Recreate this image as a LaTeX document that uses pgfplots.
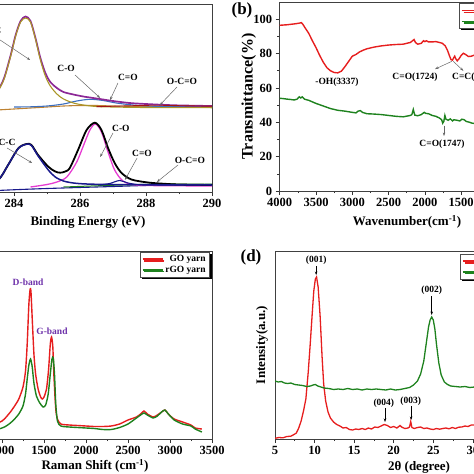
\documentclass[border=0pt]{standalone}
\usepackage{fontspec}
\setmainfont{Liberation Serif}
\usepackage{pgfplots}
\pgfplotsset{compat=1.18}
\usetikzlibrary{arrows.meta,shadows}
\definecolor{apurple}{RGB}{140,40,150}
\definecolor{aolive}{RGB}{170,150,40}
\definecolor{abrown}{RGB}{190,130,50}
\definecolor{ablue}{RGB}{60,110,190}
\definecolor{anavy}{RGB}{25,25,140}
\definecolor{amag}{RGB}{230,60,210}
\definecolor{ared}{RGB}{230,30,30}
\definecolor{agreen}{RGB}{30,130,30}
\definecolor{dband}{RGB}{110,50,170}
\newcommand\ann{\bfseries\fontsize{9.5}{10}\selectfont}
\tikzset{arr/.style={black!60, line width=0.5pt, -{Stealth[length=3.5pt,width=2.5pt]}}}
\pgfplotsset{
  base/.style={
    scale only axis,
    axis line style={black!75, line width=0.8pt},
    tick style={black!80, line width=0.6pt},
    tick align=outside,
    xtick pos=bottom, ytick pos=left,
    major tick length=4pt, minor tick length=2.2pt,
    minor x tick num=1,
    scaled ticks=false,
    /pgf/number format/assume math mode=true,
    /pgf/number format/1000 sep={},
    tick label style={font=\bfseries\fontsize{12.5}{13}\selectfont, text=black},
    label style={font=\bfseries\fontsize{13}{14}\selectfont},
    legend cell align=right,
    legend style={draw=black!70, line width=0.5pt, fill=white, font=\bfseries\fontsize{9.5}{10}\selectfont, inner xsep=2pt, inner ysep=1pt, row sep=-1pt, drop shadow={shadow xshift=1.8pt, shadow yshift=-1.8pt, fill=black, opacity=1}},
    legend image code/.code={\draw[#1, line width=1.4pt] (0pt,0pt) -- (20pt,0pt);},
  },
}
\begin{document}
\begin{tikzpicture}
\useasboundingbox (0pt,0pt) rectangle (474pt,-474pt);
\clip (0pt,0pt) rectangle (474pt,-474pt);

% ---------------- (a) XPS ----------------
\begin{axis}[base, at={(212pt,-192pt)}, anchor=south east, width=264pt, height=188pt,
  xmin=282, xmax=290, ymin=0, ymax=188, xtick={282,284,...,290}, ytick=\empty,
  xlabel={Binding Energy (eV)}, xlabel style={at={(axis description cs:0.53,-0.16)}, anchor=center}]
% top spectrum
\addplot[abrown, line width=1.1pt, smooth] coordinates {(282,78) (283,80.5) (283.5,82) (284,83) (284.5,84) (285,85) (285.5,86) (286,86.5) (286.5,86.5) (287,86) (288,85.5) (289,85.3) (290,85.3)};
\addplot[ablue, line width=1.1pt, smooth] coordinates {(284,85) (284.5,85.2) (285,86) (285.5,88) (285.9,91) (286.3,92.7) (286.7,91.5) (287.1,89) (287.6,87) (288.2,85.8) (289,85.3) (290,85.2)};
\addplot[apurple, line width=1.7pt, smooth] coordinates {(282.5,60) (283,75) (283.5,101) (283.7,114) (283.9,137) (284.05,157) (284.2,171) (284.35,175.5) (284.5,171) (284.65,154) (284.8,134) (284.95,119) (285.1,110) (285.3,104) (285.5,100) (285.8,97.5) (286.1,95.5) (286.4,94) (286.7,92.5) (287,91) (287.5,89) (288,88) (288.5,87.2) (289,86.6) (290,86)};
\addplot[aolive, line width=1.1pt, smooth] coordinates {(282.5,59) (283,74) (283.5,100) (283.7,113) (283.9,136) (284.05,156) (284.2,170) (284.35,174) (284.5,170) (284.65,153) (284.8,132) (284.95,116) (285.1,106) (285.3,98) (285.5,93) (285.8,89) (286.1,87) (286.5,85.5) (287,85) (288,84.5) (290,84.3)};
\addplot[ared!70!black, line width=0.9pt, smooth] coordinates {(286.5,85.3) (287.5,86.2) (288.3,86.8) (289,86.3) (290,85.8)};
% bottom spectrum
\addplot[anavy, line width=1.1pt, smooth] coordinates {(282,-1) (283,0) (283.5,1.5) (285,3.5) (287,5.5) (288.5,7) (290,7.5)};
\addplot[agreen, line width=1pt, smooth] coordinates {(285.5,5) (286.5,6.2) (287.5,7.2) (288.5,8) (290,7.8)};
\addplot[amag, line width=1.3pt, smooth] coordinates {(284.5,5) (285,7.5) (285.3,10) (285.6,15) (285.9,30) (286.1,46) (286.3,62) (286.47,68) (286.65,60) (286.85,40) (287.05,22) (287.3,11) (287.6,7.5) (288,6.5) (290,6)};
\addplot[anavy, line width=1.1pt, smooth] coordinates {(286.6,7) (286.9,8.5) (287.2,11.5) (287.45,9) (287.8,7.2) (288.2,7) (290,7)};
\addplot[black, line width=1.8pt, smooth] coordinates {(282.5,1) (283,5) (283.52,12) (283.82,27) (284.13,43.7) (284.38,48) (284.53,47) (284.73,37) (285.04,25.3) (285.25,20.5) (285.4,19.3) (285.55,20.5) (285.69,24) (285.94,42) (286.2,62) (286.45,69.3) (286.65,62) (286.85,44) (287.05,29) (287.26,19) (287.56,12.5) (288.06,9.5) (288.57,8.2) (289,7.5) (290,7)};
\addplot[anavy, line width=1.5pt, smooth] coordinates {(282.5,0) (283,4) (283.52,12) (283.82,27) (284.13,43.5) (284.38,47.8) (284.53,46.5) (284.73,36) (285.04,22) (285.25,15) (285.5,11) (285.8,9) (286.2,8) (287,7.5) (290,7)};
% annotations
\node[font=\ann] at (axis cs:283.36,162) {C-C};
\draw[arr] (axis cs:283.58,152) -- (axis cs:284.49,132);
\node[font=\ann] at (axis cs:285.58,124) {C-O};
\draw[arr] (axis cs:285.85,117) -- (axis cs:286.61,94);
\node[font=\ann] at (axis cs:287.45,115) {C=O};
\draw[arr] (axis cs:287.15,109) -- (axis cs:286.91,92);
\node[font=\ann] at (axis cs:289.09,111) {O-C=O};
\draw[arr] (axis cs:288.94,105) -- (axis cs:288.42,87);
\node[font=\ann] at (axis cs:283.79,50) {C-C};
\draw[arr] (axis cs:283.79,44) -- (axis cs:284.55,29);
\node[font=\ann] at (axis cs:287.24,64) {C-O};
\draw[arr] (axis cs:287.0,59) -- (axis cs:286.61,35);
\node[font=\ann] at (axis cs:287.88,39) {C=O};
\draw[arr] (axis cs:287.73,34) -- (axis cs:287.36,12);
\node[font=\ann] at (axis cs:289.33,32) {O-C=O};
\draw[arr] (axis cs:288.97,27) -- (axis cs:288.33,10);
\end{axis}

% ---------------- (b) FTIR ----------------
\begin{axis}[base, x dir=reverse, at={(279.7pt,-191pt)}, anchor=south west, width=261.4pt, height=188.9pt,
  xmin=400, xmax=4000, ymin=0, ymax=110, xtick={500,1000,...,4000}, ytick={0,20,...,100}, minor y tick num=1,
  xlabel={Wavenumber(cm\textsuperscript{-1})}, ylabel={Transmittance(\%)},
  xlabel style={at={(axis description cs:0.487,-0.164)}, anchor=center},
  ylabel style={at={(axis description cs:-0.118,0.5)}, anchor=center, font=\bfseries\fontsize{16}{16}\selectfont},
  legend style={at={(axis description cs:0.686,0.993)}, anchor=north west}]
\addplot[ared, line width=1.4pt] coordinates {(4000,96.5) (3900,96.8) (3800,97.3) (3750,97.6) (3700,98) (3680,97) (3650,95) (3600,91.8) (3550,87.5) (3500,83.5) (3450,79) (3400,75) (3350,71.8) (3300,70) (3250,69) (3200,68.8) (3150,69.8) (3100,72.5) (3050,75.5) (3000,78.5) (2950,79.5) (2900,81) (2850,82) (2800,82.8) (2700,83.8) (2600,84.5) (2500,85) (2400,85.3) (2300,85.5) (2200,86.5) (2170,87.5) (2150,88.2) (2130,86.5) (2100,85.5) (2050,86) (2020,87.5) (2000,87) (1980,87.5) (1950,86.8) (1900,86.8) (1850,87) (1800,86.5) (1760,86) (1720,84.5) (1690,82) (1660,78.5) (1640,76.5) (1620,76.2) (1605,77.5) (1590,78.5) (1575,77) (1555,75.8) (1530,77) (1500,79) (1470,80.2) (1440,79.5) (1400,78.3) (1360,78.5) (1330,79) (1300,79.2) (1200,79)};
\addlegendentry{GO yarn}
\addplot[agreen, line width=1.4pt] coordinates {(4000,54) (3950,53.8) (3900,53.5) (3850,53.3) (3800,53) (3760,53.5) (3730,54.8) (3710,54.2) (3690,54.8) (3660,53.5) (3600,52.8) (3500,51) (3400,49.5) (3300,48) (3200,47) (3100,46.5) (3000,45.8) (2950,45.5) (2920,46.5) (2890,46.8) (2860,45.8) (2800,45) (2700,44.8) (2600,44.5) (2500,44) (2400,43.5) (2300,43.2) (2200,44) (2180,44.5) (2160,47.5) (2140,44.2) (2100,43.8) (2050,44.5) (2010,45.8) (1990,45.2) (1950,45) (1900,44) (1850,43.5) (1800,42.5) (1770,41.5) (1755,39.5) (1740,40.5) (1725,44) (1710,41.8) (1680,41.2) (1650,42) (1620,40.8) (1600,41.5) (1560,41.2) (1520,40.8) (1490,41.8) (1460,41.5) (1430,40.5) (1400,40.2) (1350,39.5) (1300,39.3) (1200,39)};
\addlegendentry{rGO yarn}
\node[font=\ann] at (axis cs:3211,63.5) {-OH(3337)};
\node[font=\ann] at (axis cs:2137,66.4) {C=O(1724)};
\node[font=\ann, anchor=west] at (axis cs:1673,66) {C=C(1620)};
\draw[arr] (axis cs:1630,75.5) -- (axis cs:1860,71);
\draw[arr] (axis cs:1610,75.5) -- (axis cs:1470,70);
\node[font=\ann] at (axis cs:1765,27.5) {C=O(1747)};
\draw[arr] (axis cs:1737,38) -- (axis cs:1737,32);
\end{axis}
\node[font=\bfseries\fontsize{17}{17}\selectfont] at (242pt,-10pt) {(b)};

% ---------------- (c) Raman ----------------
\begin{axis}[base, at={(212pt,-439pt)}, anchor=south east, width=252pt, height=188pt,
  xmin=500, xmax=3500, ymin=0, ymax=188, xtick={500,1000,...,3500}, ytick=\empty,
  xlabel={Raman Shift (cm\textsuperscript{-1})}, xlabel style={at={(axis description cs:0.536,-0.144)}, anchor=center},
  legend style={at={(axis description cs:0.992,0.995)}, anchor=north east}]
\addplot[ared, line width=1.4pt, smooth, tension=0.4] coordinates {(600,5) (800,10) (1000,18) (1050,22) (1100,27) (1150,33) (1200,40) (1250,52) (1280,68) (1300,95) (1320,135) (1335,150) (1345,147) (1360,120) (1380,85) (1400,65) (1430,50) (1460,42) (1480,40) (1500,42) (1530,50) (1555,70) (1575,95) (1590,102) (1605,92) (1620,60) (1640,30) (1660,20) (1700,15) (1800,14) (1900,13.5) (2000,13) (2100,12.5) (2200,12.5) (2300,13) (2400,15) (2500,19) (2600,22) (2650,25) (2690,28) (2730,25) (2800,22) (2850,24) (2900,27) (2940,29) (2980,25) (3050,20) (3150,17) (3250,14) (3300,11) (3380,10)};
\addlegendentry{GO yarn}
\addplot[agreen, line width=1.4pt, smooth, tension=0.4] coordinates {(600,3) (800,6) (1000,11) (1050,13) (1100,16) (1150,20) (1200,25) (1250,33) (1280,45) (1300,60) (1320,74) (1340,80) (1360,72) (1380,56) (1410,43) (1450,36) (1490,32) (1520,34) (1550,45) (1575,65) (1595,80) (1610,81) (1625,65) (1640,35) (1660,18) (1700,13) (1800,12) (1900,11.5) (2000,11) (2100,10.5) (2200,9.5) (2300,9.5) (2400,11.5) (2500,15) (2600,21) (2650,24) (2690,26) (2730,24) (2800,21) (2850,23) (2900,27) (2940,29) (2980,25) (3050,19) (3150,15) (3250,13) (3300,10) (3380,7)};
\addlegendentry{rGO yarn}
\node[font=\ann, text=dband] at (axis cs:1310,157) {D-band};
\node[font=\ann, text=dband] at (axis cs:1595,108) {G-band};
\end{axis}

% ---------------- (d) XRD ----------------
\begin{axis}[base, at={(275pt,-439pt)}, anchor=south west, width=277pt, height=188pt,
  xmin=5, xmax=40, ymin=0, ymax=188, xtick={5,10,...,40}, ytick=\empty,
  xlabel={2θ (degree)}, ylabel={Intensity(a.u.)},
  xlabel style={at={(axis description cs:0.52,-0.149)}, anchor=center},
  ylabel style={at={(axis description cs:-0.047,0.5)}, anchor=center},
  legend style={at={(axis description cs:0.668,0.984)}, anchor=north west}]
\addplot[ared, line width=1.3pt] coordinates {(5.0,0.7) (5.5,1.5) (6.0,1.2) (6.5,2.5) (7.0,2.8) (7.4,4.5) (7.7,6) (8.0,11) (8.3,18) (8.6,28) (8.9,40) (9.2,67) (9.45,95) (9.7,125) (9.9,148) (10.1,160) (10.25,162) (10.45,152) (10.7,123) (10.95,82) (11.15,55) (11.4,38) (11.7,27) (12.0,21) (12.4,17) (12.8,14.5) (13.2,13) (13.6,11) (14.0,11.5) (14.4,9.5) (14.8,9) (15.2,10) (15.6,9.5) (16.0,10.5) (16.4,9.5) (16.8,11) (17.2,10) (17.6,12) (18.0,11.5) (18.4,13) (18.8,14.5) (19.2,13.5) (19.6,11.5) (20.0,12.5) (20.4,11) (20.8,13.5) (21.0,12) (21.4,10.5) (21.8,11) (22.0,12) (22.15,17.5) (22.3,11.5) (22.6,10.5) (23.0,11.5) (23.4,12) (23.8,10.5) (24.2,11) (24.6,10) (25.0,9.5) (25.4,10.5) (25.8,9.8) (26.2,10.5) (26.6,11) (27.0,10.2) (27.4,11.5) (27.8,10.5) (28.2,11.8) (28.6,12) (29.0,13) (29.4,12.5) (29.8,14) (30.2,14) (31,14.5) (32,15)};
\addlegendentry{GO yarn}
\addplot[agreen, line width=1.3pt] coordinates {(5.0,58) (5.4,57) (5.8,57.5) (6.2,56) (6.6,55.5) (7.0,56) (7.5,54.5) (8.0,54) (8.5,53.5) (9.0,52.5) (9.5,53) (9.8,54) (10.1,54.5) (10.4,53) (10.8,52) (11.2,51) (11.8,50.5) (12.4,49.5) (13.0,50) (13.6,49.5) (14.2,50.5) (14.8,49.5) (15.4,50) (16.0,49) (16.6,50) (17.2,49.5) (17.8,50) (18.4,49.5) (19.0,49) (19.6,50) (20.2,49) (20.8,49.5) (21.4,50.5) (22.0,51.5) (22.5,54) (23.0,58) (23.4,65) (23.8,78) (24.1,95) (24.4,112) (24.6,119) (24.8,122) (25.0,119) (25.2,110) (25.4,95) (25.7,76) (26.0,64) (26.4,57) (26.8,54.5) (27.2,53) (27.8,52.5) (28.4,52) (29.0,52.5) (29.6,51.5) (30.2,52) (31,51.5) (32,51)};
\addlegendentry{rGO yarn}
\node[font=\ann] at (axis cs:10.2,179) {(001)};
\draw[arr, black] (axis cs:10.2,173) -- (axis cs:10.2,164);
\node[font=\ann] at (axis cs:24.8,149) {(002)};
\draw[arr, black] (axis cs:24.8,143) -- (axis cs:24.8,124);
\node[font=\ann] at (axis cs:18.75,36) {(004)};
\draw[arr, black] (axis cs:18.9,31) -- (axis cs:18.9,17);
\node[font=\ann] at (axis cs:22.15,38) {(003)};
\draw[arr, black] (axis cs:22.2,33) -- (axis cs:22.2,19);
\end{axis}
\node[font=\bfseries\fontsize{17}{17}\selectfont] at (251pt,-257pt) {(d)};
\end{tikzpicture}
\end{document}
